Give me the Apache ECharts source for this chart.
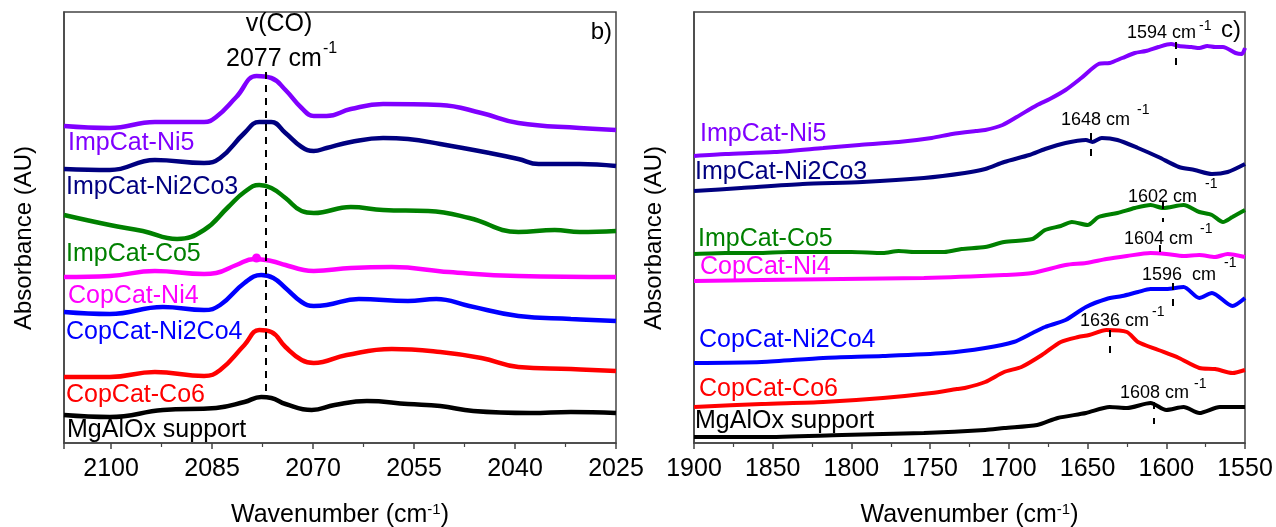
<!DOCTYPE html>
<html>
<head>
<meta charset="utf-8">
<script src="https://cdn.jsdelivr.net/npm/echarts@6/dist/echarts.min.js"></script>
<style>
  html, body { margin: 0; padding: 0; background: #fff; }
  #chart { width: 1276px; height: 527px; }
</style>
</head>
<body>
<div id="chart"></div>
<script>
// ---- Sample names and trace colours ----
const samples = ['ImpCat-Ni5', 'ImpCat-Ni2Co3', 'ImpCat-Co5', 'CopCat-Ni4', 'CopCat-Ni2Co4', 'CopCat-Co6', 'MgAlOx support'];
const colors  = ['#8000ff', '#000080', '#008000', '#ff00ff', '#0000ff', '#ff0000', '#000000'];

// ---- Panel b): CO stretching region, [wavenumber, absorbance (offset, AU)] ----
const coNi5 = [[2107,3.17],[2100.2,3.15],[2093.5,3.21],[2086.2,3.21],[2084.4,3.26],[2081.4,3.46],[2078.4,3.67],[2076.2,3.65],[2074.1,3.53],[2071.7,3.35],[2069.9,3.27],[2068,3.27],[2064.4,3.34],[2059.6,3.39],[2051.1,3.38],[2045,3.30],[2039.5,3.20],[2030.4,3.15],[2025,3.13]];
const coNi2Co3 = [[2107,2.74],[2100.2,2.73],[2093.5,2.83],[2086.2,2.80],[2083.8,2.85],[2080.2,3.10],[2078,3.21],[2076.2,3.21],[2074.1,3.10],[2071.7,2.96],[2069.9,2.92],[2068,2.95],[2064.4,3.01],[2059.6,3.05],[2055.9,3.04],[2051.1,2.99],[2043.8,2.90],[2039.5,2.84],[2036.5,2.79],[2030.4,2.79],[2025,2.77]];
const coCo5 = [[2107,2.28],[2100.2,2.18],[2095.3,2.12],[2090.2,2.04],[2086.2,2.13],[2082.6,2.36],[2080.2,2.51],[2078,2.58],[2076.2,2.55],[2074.1,2.45],[2071.7,2.32],[2069.9,2.30],[2064.4,2.36],[2059.6,2.33],[2052.9,2.32],[2046.8,2.25],[2039.5,2.11],[2034.1,2.13],[2030.4,2.11],[2025,2.12]];
const coNi4 = [[2107,1.66],[2100.2,1.67],[2093.5,1.72],[2086.2,1.69],[2084.4,1.70],[2081.4,1.78],[2078.7,1.84],[2076.2,1.82],[2074.1,1.78],[2071.4,1.73],[2069.9,1.72],[2064.4,1.75],[2058.3,1.76],[2049.8,1.71],[2039.5,1.67],[2025,1.66]];
const coNi2Co4 = [[2107,1.31],[2100.2,1.29],[2092.3,1.36],[2086.2,1.33],[2083.8,1.38],[2080.2,1.60],[2077.7,1.68],[2075.9,1.65],[2074.1,1.55],[2071.7,1.41],[2069.9,1.37],[2068,1.38],[2063.2,1.44],[2055.9,1.42],[2051.7,1.44],[2046.8,1.37],[2039.5,1.27],[2031.7,1.24],[2025,1.22]];
const coCo6 = [[2107,0.66],[2100.2,0.66],[2093.5,0.71],[2086.2,0.67],[2083.8,0.73],[2080.2,0.98],[2078,1.13],[2076.2,1.11],[2074.1,0.96],[2071.7,0.83],[2069.9,0.80],[2065,0.88],[2058.3,0.94],[2051.1,0.91],[2045,0.85],[2039.5,0.76],[2031.7,0.74],[2025,0.72]];
const coSupport = [[2107,0.28],[2100.2,0.26],[2092.3,0.33],[2084.4,0.35],[2080.2,0.41],[2077.7,0.46],[2076.2,0.45],[2074.1,0.39],[2070.2,0.33],[2066.8,0.38],[2062,0.42],[2055.9,0.39],[2051.1,0.37],[2046.2,0.32],[2037.7,0.30],[2031.7,0.31],[2025,0.30]];
const coPeak = 2077;              // v(CO) band position, cm-1
const coPeakSpan = [3.71, 0.45];  // vertical extent of the guide line, AU
const ni4Point = [2078.4, 1.85];  // single plotted symbol on CopCat-Ni4

// ---- Panel c): 1900-1550 cm-1 region ----
const bNi5 = [[1900,2.87],[1880,2.89],[1849,2.91],[1818,2.95],[1795,2.98],[1770,3.01],[1749,3.05],[1736,3.09],[1721,3.12],[1715,3.13],[1704,3.18],[1695,3.26],[1682,3.38],[1674,3.44],[1664,3.53],[1654,3.65],[1643,3.79],[1636,3.80],[1628,3.85],[1620,3.90],[1613,3.92],[1605,3.96],[1597,3.99],[1592,3.97],[1584,3.96],[1579,3.95],[1574,3.97],[1569,3.96],[1564,3.96],[1556,3.90],[1552,3.89],[1550,3.95]];
const bNi2Co3 = [[1900,2.52],[1870,2.55],[1831,2.59],[1793,2.61],[1754,2.65],[1728,2.70],[1715,2.74],[1703,2.81],[1687,2.88],[1677,2.94],[1664,3.00],[1651,3.03],[1647,3.01],[1641,3.05],[1631,3.03],[1618,2.95],[1605,2.86],[1592,2.76],[1582,2.73],[1571,2.69],[1561,2.71],[1550,2.79]];
const bCo5 = [[1900,1.89],[1880,1.90],[1860,1.90],[1840,1.91],[1820,1.91],[1800,1.91],[1780,1.90],[1770,1.92],[1760,1.91],[1741,1.91],[1730,1.94],[1715,1.96],[1703,2.01],[1685,2.04],[1677,2.13],[1667,2.17],[1660,2.21],[1650,2.18],[1643,2.26],[1631,2.30],[1620,2.35],[1610,2.38],[1602,2.35],[1589,2.38],[1579,2.31],[1571,2.28],[1564,2.21],[1558,2.26],[1550,2.33]];
const bNi4 = [[1900,1.62],[1857,1.63],[1806,1.64],[1754,1.65],[1703,1.68],[1685,1.70],[1664,1.78],[1651,1.80],[1638,1.84],[1625,1.87],[1610,1.90],[1600,1.89],[1589,1.87],[1579,1.88],[1569,1.86],[1561,1.89],[1550,1.86]];
const bNi2Co4 = [[1900,0.80],[1857,0.81],[1818,0.85],[1780,0.87],[1741,0.90],[1715,0.95],[1697,1.01],[1685,1.10],[1677,1.16],[1664,1.23],[1651,1.36],[1638,1.44],[1628,1.47],[1618,1.51],[1610,1.54],[1600,1.54],[1589,1.56],[1579,1.45],[1571,1.50],[1558,1.37],[1550,1.45]];
const bCo6 = [[1900,0.36],[1857,0.39],[1818,0.41],[1780,0.45],[1749,0.50],[1733,0.54],[1728,0.55],[1715,0.61],[1703,0.71],[1692,0.76],[1679,0.88],[1667,1.01],[1656,1.06],[1649,1.08],[1638,1.13],[1625,1.11],[1618,1.01],[1605,0.93],[1592,0.85],[1579,0.75],[1569,0.74],[1558,0.70],[1550,0.73]];
const bSupport = [[1900,0.06],[1857,0.06],[1806,0.08],[1754,0.10],[1715,0.13],[1703,0.15],[1682,0.18],[1669,0.25],[1651,0.30],[1636,0.36],[1625,0.35],[1610,0.40],[1600,0.33],[1589,0.36],[1579,0.30],[1566,0.36],[1550,0.36]];

// band maxima per sample (same order as samples), cm-1
const bandPeaks = [1594, 1648, 1602, 1604, 1596, 1636, 1608];
// vertical extent of each short peak guide, AU
const bandPeakSpans = [[4.01,3.73],[3.10,2.85],[2.41,2.21],[1.98,1.89],[1.60,1.33],[1.13,0.86],[0.41,0.19]];

// ---- Axis ticks ----
const coTicks = { min: 2025, max: 2107, interval: 15 };
const bandTicks = { min: 1550, max: 1900, interval: 50 };
const absRange = { min: 0, max: 4.31 };

// ---- Layout ----
const FONT = '"Liberation Sans", Arial, Helvetica, sans-serif';
const gridB = { left: 64, top: 12, width: 552, height: 431 };
const gridC = { left: 694, top: 12, width: 551, height: 431 };
// sample name labels (left x, centre y) in each panel
const nameXYb = [[68,143],[66,187],[66,254],[68,296],[66,332],[66,395],[67,430]];
const nameXYc = [[700,134],[695,172],[698,239],[700,267],[699,340],[699,389],[695,421]];
// band label anchors: [main x, main y, superscript x, superscript y]
const peakTextXY = [[1127,33,1199,26],[1061,120,1137,110],[1128,197,1205,184],[1124,239,1200,229],[1142,275,1224,263],[1080,321,1152,312],[1120,393,1194,384]];

const chart = echarts.init(document.getElementById('chart'), null, { renderer: 'canvas' });

function xAxisCfg(gridIndex, ticks, showMax) {
  return {
    type: 'value', gridIndex, inverse: true,
    min: ticks.min, max: ticks.max, interval: ticks.interval,
    name: '{n|Wavenumber (cm}{s|-1}{n|)}',
    nameLocation: 'middle', nameGap: 59,
    nameTextStyle: {
      rich: {
        n: { fontSize: 25, fontFamily: FONT, color: '#000' },
        s: { fontSize: 15, fontFamily: FONT, color: '#000', padding: [0, 0, 11, 0] }
      }
    },
    axisLine: { show: true, onZero: false, lineStyle: { color: '#444', width: 1.5 } },
    axisTick: { show: true, inside: false, length: 6, lineStyle: { color: '#444', width: 1.5 } },
    minorTick: { show: true, splitNumber: 2, length: 4, lineStyle: { color: '#444', width: 1.2 } },
    axisLabel: {
      fontSize: 25, fontFamily: FONT, color: '#000', margin: 14,
      showMaxLabel: showMax, showMinLabel: true,
      formatter: v => String(v)
    },
    splitLine: { show: false }
  };
}
function yAxisCfg(gridIndex) {
  return {
    type: 'value', gridIndex, min: absRange.min, max: absRange.max,
    name: 'Absorbance (AU)', nameLocation: 'middle', nameGap: 28, nameRotate: 90,
    nameTextStyle: { fontSize: 24, fontFamily: FONT, color: '#000', padding: [0, 21, 0, 0] },
    axisLine: { show: true, onZero: false, lineStyle: { color: '#444', width: 1.5 } },
    axisTick: { show: false }, axisLabel: { show: false }, splitLine: { show: false }
  };
}

const coData = [coNi5, coNi2Co3, coCo5, coNi4, coNi2Co4, coCo6, coSupport];
const bandData = [bNi5, bNi2Co3, bCo5, bNi4, bNi2Co4, bCo6, bSupport];

const series = [];
coData.forEach((d, i) => {
  const s = {
    name: samples[i], type: 'line', xAxisIndex: 0, yAxisIndex: 0, data: d,
    smooth: 0.45, showSymbol: false, symbol: 'none', silent: true,
    lineStyle: { color: colors[i], width: 4.5 }, z: 3
  };
  if (i === 6) {
    s.markLine = {
      silent: true, symbol: 'none', label: { show: false },
      lineStyle: { color: '#000', width: 2, type: [7, 6] },
      data: [[{ coord: [coPeak, coPeakSpan[0]] }, { coord: [coPeak, coPeakSpan[1]] }]]
    };
  }
  if (i === 3) {
    s.markPoint = {
      silent: true, symbol: 'circle', symbolSize: 9,
      itemStyle: { color: colors[3] }, label: { show: false },
      data: [{ coord: ni4Point }]
    };
  }
  series.push(s);
});
bandData.forEach((d, i) => {
  series.push({
    name: samples[i], type: 'line', xAxisIndex: 1, yAxisIndex: 1, data: d,
    smooth: 0.25, showSymbol: false, symbol: 'none', silent: true,
    lineStyle: { color: colors[i], width: 4 }, z: 3,
    markLine: {
      silent: true, symbol: 'none', label: { show: false },
      lineStyle: { color: '#000', width: 2, type: [7, 9] },
      data: [[{ coord: [bandPeaks[i], bandPeakSpans[i][0]] }, { coord: [bandPeaks[i], bandPeakSpans[i][1]] }]]
    }
  });
});

function txt(x, y, text, size, color, align) {
  return {
    type: 'text', x, y, silent: true, z: 10,
    style: {
      text, fontSize: size, fontFamily: FONT, fill: color,
      align: align || 'left', verticalAlign: 'middle',
      textAlign: align || 'left', textVerticalAlign: 'middle'
    }
  };
}

const graphics = [];
samples.forEach((n, i) => {
  graphics.push(txt(nameXYb[i][0], nameXYb[i][1], n, 25, colors[i]));
  graphics.push(txt(nameXYc[i][0], nameXYc[i][1], n, 25, colors[i]));
});
// v(CO) band annotation
graphics.push(txt(279, 24, 'v(CO)', 25, '#000', 'center'));
graphics.push(txt(226, 59, coPeak + ' cm', 25, '#000'));
graphics.push(txt(323, 49, '-1', 16, '#000'));
// band maxima annotations in panel c)
bandPeaks.forEach((p, i) => {
  const t = peakTextXY[i];
  graphics.push(txt(t[0], t[1], p + (i === 4 ? '  cm' : ' cm'), 18, '#000'));
  graphics.push(txt(t[2], t[3], '-1', 14, '#000'));
});
// panel tags
graphics.push(txt(612, 32, 'b)', 24, '#000', 'right'));
graphics.push(txt(1241, 30, 'c)', 24, '#000', 'right'));

const gridStyle = {
  show: true, borderColor: '#444', borderWidth: 1.5, backgroundColor: 'transparent',
  containLabel: false, outerBoundsMode: 'none'
};

chart.setOption({
  animation: false,
  backgroundColor: '#fff',
  grid: [Object.assign({}, gridStyle, gridB), Object.assign({}, gridStyle, gridC)],
  xAxis: [xAxisCfg(0, coTicks, false), xAxisCfg(1, bandTicks, true)],
  yAxis: [yAxisCfg(0), yAxisCfg(1)],
  series,
  graphic: graphics
});
</script>
</body>
</html>
